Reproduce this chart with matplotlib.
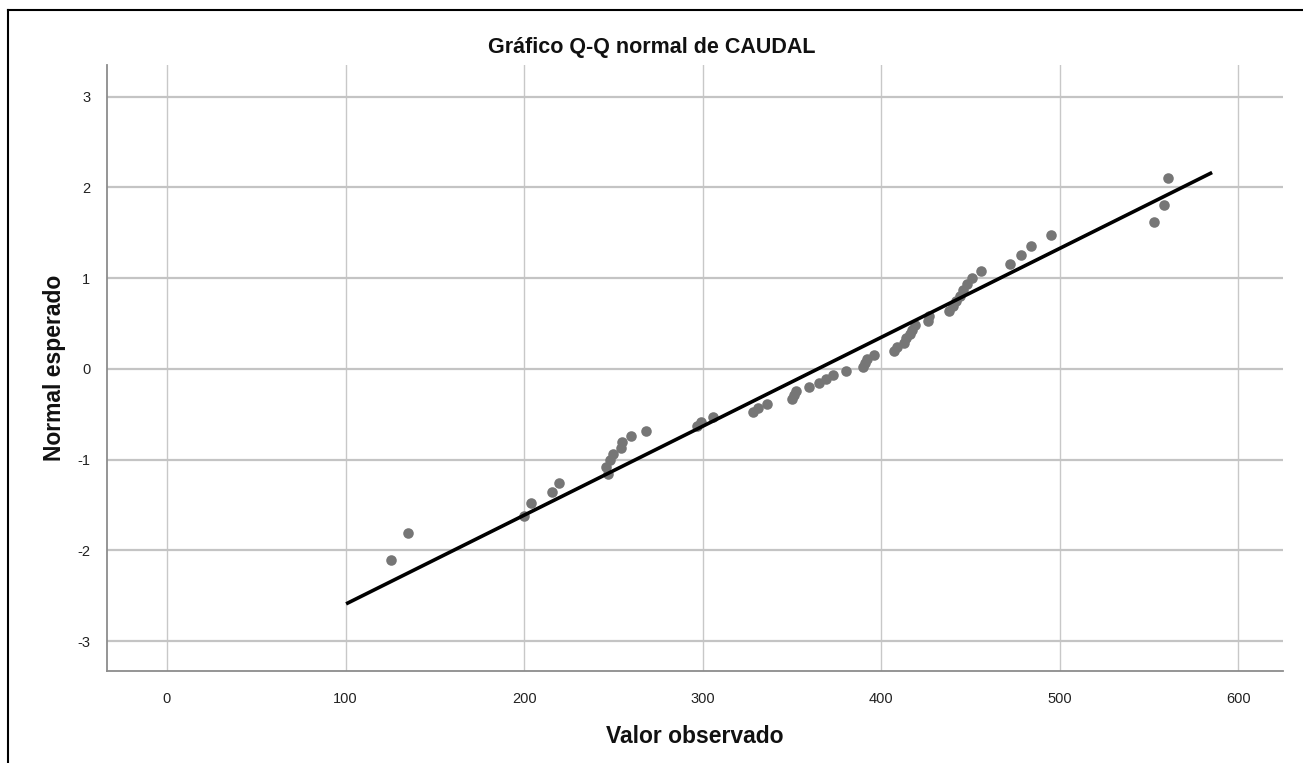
import matplotlib
matplotlib.use("Agg")
import matplotlib.pyplot as plt
from matplotlib.lines import Line2D

plt.rcParams['font.family'] = ['Liberation Sans', 'DejaVu Sans']
plt.rcParams['axes.unicode_minus'] = False

observed = [125.5, 135, 200, 204, 215.5, 219.6,
            247, 246, 248, 250, 254, 255, 260, 268,
            297, 299, 306, 328, 331, 336,
            350, 351, 352.5, 359.5, 365, 369, 373, 380,
            390, 391, 392, 396, 407, 409, 413, 414, 416, 417, 419, 426, 427, 438,
            440, 442, 444, 446, 448, 451, 456, 472, 478, 484, 495, 553, 558.5, 560.5]
# Expected normal values
expected = [-2.108, -1.810, -1.620, -1.474, -1.355, -1.253,
            -1.160, -1.079, -1.003, -0.933, -0.867, -0.804, -0.745, -0.688,
            -0.634, -0.581, -0.529, -0.479, -0.431, -0.383,
            -0.336, -0.290, -0.244, -0.199, -0.154, -0.110, -0.066, -0.022,
            0.022, 0.066, 0.110, 0.154, 0.199, 0.244, 0.290, 0.336, 0.383, 0.431, 0.479, 0.529, 0.581, 0.634,
            0.688, 0.745, 0.804, 0.867, 0.933, 1.003, 1.079, 1.160, 1.253, 1.355, 1.474, 1.620, 1.810, 2.108]

# Reference line endpoints
line_x = [100.3, 585.3]
line_y = [-2.59, 2.165]

x_ticks = [0, 100, 200, 300, 400, 500, 600]
y_ticks = [-3, -2, -1, 0, 1, 2, 3]

fig = plt.figure(figsize=(13.03, 7.63), dpi=100)
ax = fig.add_axes([107/1303, (763-671)/763, (1283-107)/1303, (671-65)/763])

ax.set_xlim(-33.6, 625)
ax.set_ylim(-3.33, 3.35)

for xv in x_ticks:
    ax.axvline(xv, color='#c8c8c8', lw=1.0, zorder=0)
for yv in y_ticks:
    ax.axhline(yv, color='#c4c4c4', lw=1.6, zorder=0)

ax.plot(observed, expected, 'o', color='#767676', ms=7.6, mec='none', zorder=2)
ax.plot(line_x, line_y, color='black', lw=2.6, solid_capstyle='butt', zorder=3)

ax.set_xticks(x_ticks)
ax.set_yticks(y_ticks)
ax.tick_params(axis='both', length=0, labelsize=10.5, colors='#222222')
ax.tick_params(axis='x', pad=15)
ax.tick_params(axis='y', pad=12)

for s in ['top', 'right']:
    ax.spines[s].set_visible(False)
for s in ['left', 'bottom']:
    ax.spines[s].set_color('#8c8c8c')
    ax.spines[s].set_linewidth(1.3)

ax.set_xlabel('Valor observado', fontsize=16.5, fontweight='bold', labelpad=14, color='#111111')
ax.set_ylabel('Normal esperado', fontsize=16.5, fontweight='bold', labelpad=8, color='#111111')

fig.text(0.5, 1 - 47/763, 'Gráfico Q-Q normal de CAUDAL', ha='center', va='center',
         fontsize=15.5, fontweight='bold', color='#111111')

# outer frame
fig.add_artist(Line2D([8/1303, 8/1303], [0, 1 - 10/763], transform=fig.transFigure, color='black', lw=1.5))
fig.add_artist(Line2D([8/1303, 1], [1 - 10/763, 1 - 10/763], transform=fig.transFigure, color='black', lw=1.5))

fig.savefig('out.png', dpi=100)
